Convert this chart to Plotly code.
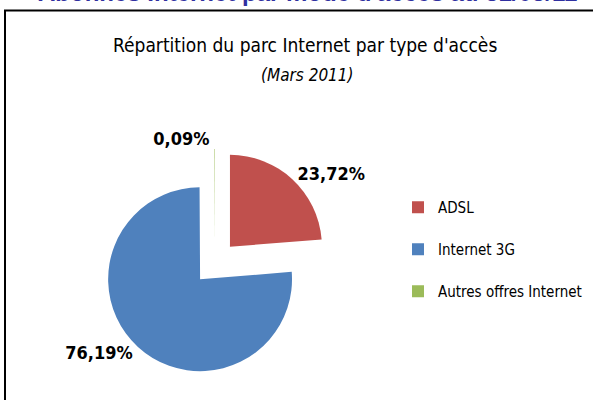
import plotly.graph_objects as go

# Data (Mars 2011)
categories = ["ADSL", "Internet 3G", "Autres offres Internet"]
shares = [23.72, 76.19, 0.09]
slice_colors = ["#C0504D", "#4F81BD", "#9BBB59"]

NARROW = "Liberation Sans Narrow, DejaVu Sans Condensed, Open Sans, sans-serif"
W, H = 593, 400

# a trailing blank line gives the legend entries the wide spacing of the original
legend_labels = [f"{c}<br> " for c in categories]

fig = go.Figure(go.Pie(
    labels=legend_labels,
    values=shares,
    marker=dict(colors=slice_colors),
    sort=False,
    direction="clockwise",
    rotation=0,
    pull=[0.24, 0.24, 0.24],
    texttemplate="%{percent:.2%}",
    textposition="outside",
    textfont=dict(family=NARROW, size=18, color="black", weight="bold"),
    hoverinfo="skip",
    domain=dict(x=[101 / W, 329 / W], y=[1 - 377 / H, 1 - 149 / H]),
))

fig.update_layout(
    width=W, height=H,
    margin=dict(l=0, r=0, t=0, b=0, autoexpand=False),
    paper_bgcolor="white",
    separators=", ",
    showlegend=True,
    legend=dict(
        x=398 / W, y=1 - 191 / H, xanchor="left", yanchor="top",
        font=dict(family=NARROW, size=15, color="black"),
        valign="top",
    ),
    shapes=[dict(
        type="rect", xref="paper", yref="paper",
        x0=5 / W, x1=1.05, y0=-0.05, y1=1 - 10.5 / H,
        line=dict(color="black", width=2),
    )],
    annotations=[
        # page heading, cut by the top edge as in the original screenshot
        dict(text="Abonnés Internet par mode d'accès au 31/03/11",
             x=307 / W, y=1 - 8 / H, xref="paper", yref="paper",
             xanchor="center", yanchor="bottom", showarrow=False,
             font=dict(family="Liberation Sans, Arial", size=24, color="#3030A0", weight="bold")),
        dict(text="Répartition du parc Internet par type d'accès",
             x=305 / W, y=1 - 45 / H, xref="paper", yref="paper",
             xanchor="center", yanchor="middle", showarrow=False,
             font=dict(family=NARROW, size=19, color="black")),
        dict(text="<i>(Mars 2011)</i>",
             x=307 / W, y=1 - 75 / H, xref="paper", yref="paper",
             xanchor="center", yanchor="middle", showarrow=False,
             font=dict(family=NARROW, size=17, color="black")),
    ],
)

# drop the default page margin so the figure sits flush with the window
fig.write_html("out.html", config={"displayModeBar": False},
               post_script="document.body.style.margin = '0';")
